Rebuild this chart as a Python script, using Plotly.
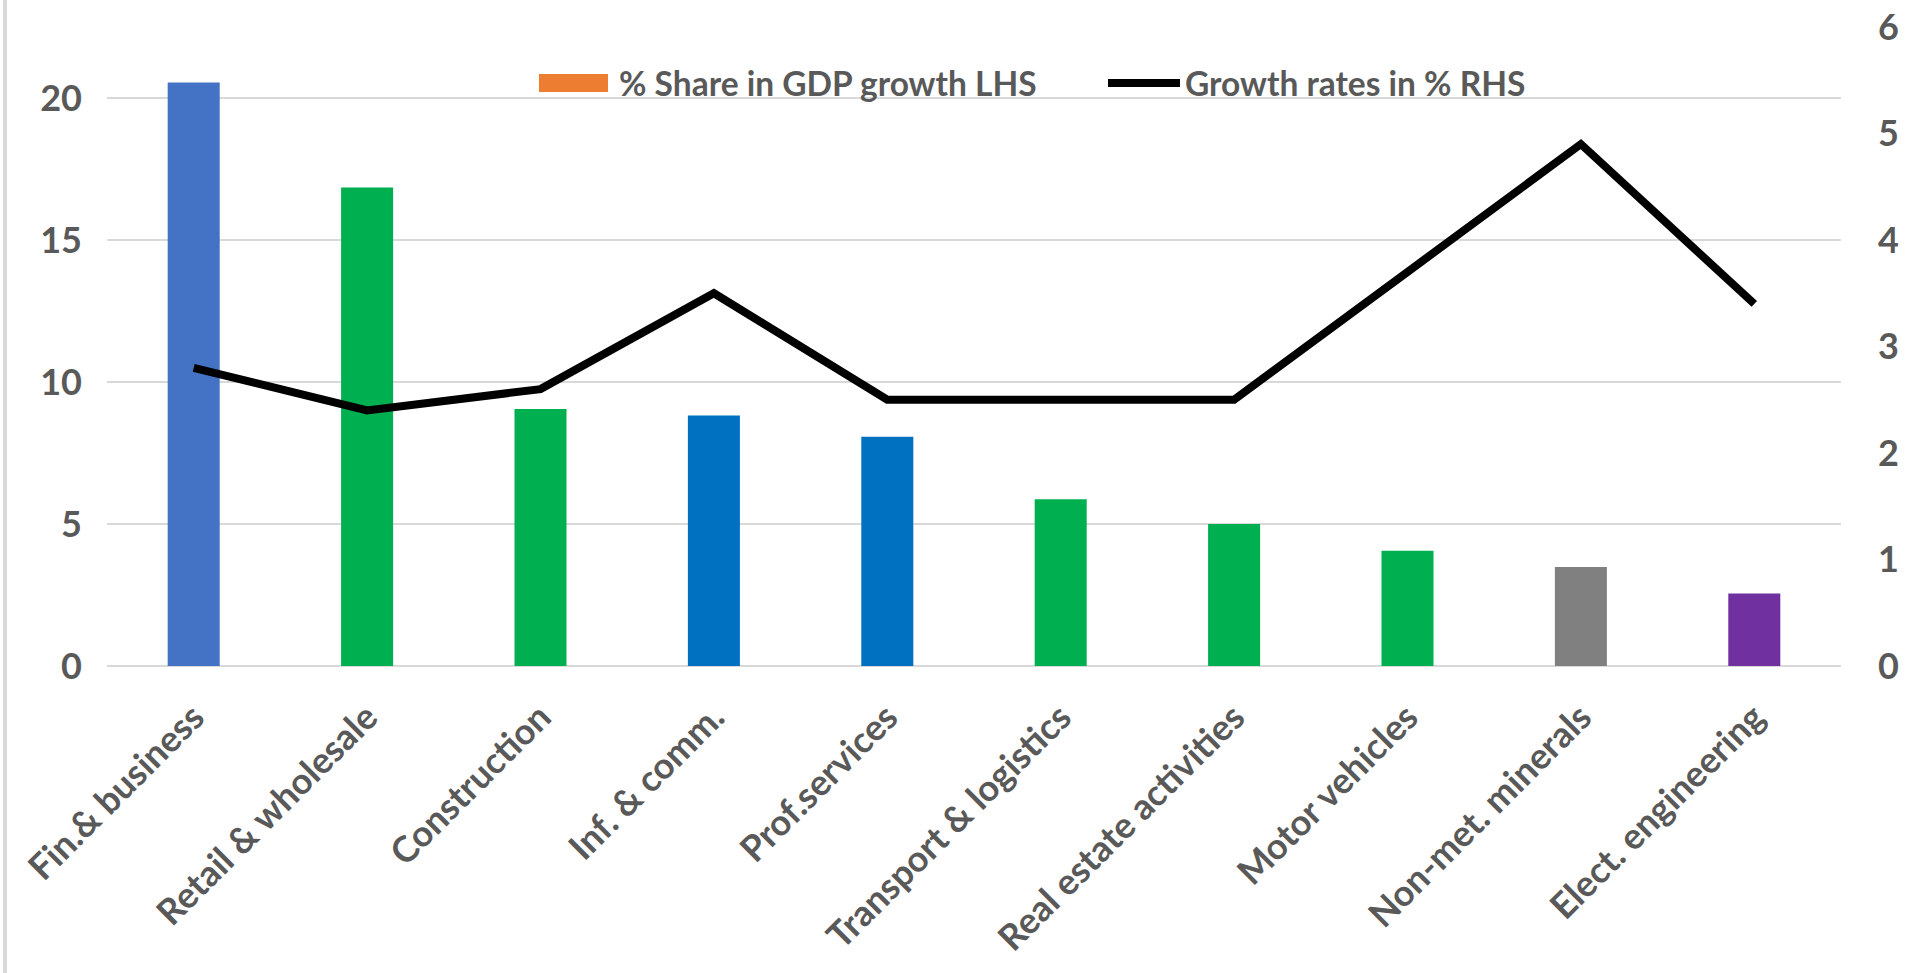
import plotly.graph_objects as go

categories = ["Fin.& business", "Retail & wholesale", "Construction", "Inf. & comm.",
              "Prof.services", "Transport & logistics", "Real estate activities",
              "Motor vehicles", "Non-met. minerals", "Elect. engineering"]
share_gdp_growth = [20.55, 16.85, 9.05, 8.82, 8.07, 5.87, 5.0, 4.06, 3.49, 2.55]
growth_rates = [2.8, 2.4, 2.6, 3.5, 2.5, 2.5, 2.5, 3.7, 4.9, 3.4]
bar_colors = ["#4472C4", "#00B050", "#00B050", "#0070C0", "#0070C0",
              "#00B050", "#00B050", "#00B050", "#808080", "#7030A0"]
left_ticks = [0, 5, 10, 15, 20]
right_ticks = [0, 1, 2, 3, 4, 5, 6]
legend_names = ["% Share in GDP growth LHS", "Growth rates in % RHS"]
legend_colors = ["#ED7D31", "black"]

FONT = "Lato"
GREY = "#595959"
W, H = 1908, 973
ML, MR, MT, MB = 107, 67, 27, 307
PW, PH = W - ML - MR, H - MT - MB


def px(xp):
    return (xp - ML) / PW


def py(yp):
    return (H - MB - yp) / PH


fig = go.Figure()
fig.add_trace(go.Bar(
    x=categories, y=share_gdp_growth, marker=dict(color=bar_colors, line=dict(width=0)),
    showlegend=False, yaxis="y", name=legend_names[0]))
fig.add_trace(go.Scatter(
    x=categories, y=growth_rates, mode="lines", line=dict(color="black", width=8),
    name=legend_names[1], yaxis="y2", showlegend=False))

tf = dict(family=FONT, size=36, color=GREY, weight="bold")
lf = dict(family=FONT, size=33.5, color=GREY, weight="bold")

shapes = [
    dict(type="line", xref="paper", yref="paper", x0=px(5), x1=px(5),
         y0=py(H), y1=py(0), line=dict(color="#D9D9D9", width=4)),
    # manual legend swatches
    dict(type="rect", xref="paper", yref="paper", x0=px(539), x1=px(608),
         y0=py(92), y1=py(74), fillcolor=legend_colors[0], line=dict(width=0)),
    dict(type="line", xref="paper", yref="paper", x0=px(1108), x1=px(1180),
         y0=py(83), y1=py(83), line=dict(color=legend_colors[1], width=8)),
]
annotations = [
    dict(xref="paper", yref="paper", x=px(617), y=py(83), xanchor="left", yanchor="middle",
         text=legend_names[0], showarrow=False, font=lf),
    dict(xref="paper", yref="paper", x=px(1183), y=py(83), xanchor="left", yanchor="middle",
         text=legend_names[1], showarrow=False, font=lf),
]

fig.update_layout(
    width=W, height=H,
    margin=dict(l=ML, r=MR, t=MT, b=MB),
    paper_bgcolor="white", plot_bgcolor="white",
    barmode="overlay", bargap=0.7, showlegend=False,
    font=tf,
    xaxis=dict(tickangle=-45, showgrid=False, showline=False, ticks="", automargin=False,
               ticklabelstandoff=22, tickfont=tf),
    yaxis=dict(range=[0, 22.5], tickvals=left_ticks, showgrid=True, gridcolor="#D9D9D9",
               gridwidth=2, zeroline=True, zerolinecolor="#D9D9D9", zerolinewidth=2,
               showline=False, ticks="", ticklabelstandoff=24, automargin=False,
               tickfont=tf),
    yaxis2=dict(range=[0, 6], tickvals=right_ticks, overlaying="y", side="right",
                showgrid=False, zeroline=False, showline=False, ticks="", automargin=False,
                ticklabelstandoff=36, tickfont=tf),
    shapes=shapes, annotations=annotations,
)

fig.write_html("out.html", config={"displayModeBar": False},
               post_script="document.body.style.margin='0';")
